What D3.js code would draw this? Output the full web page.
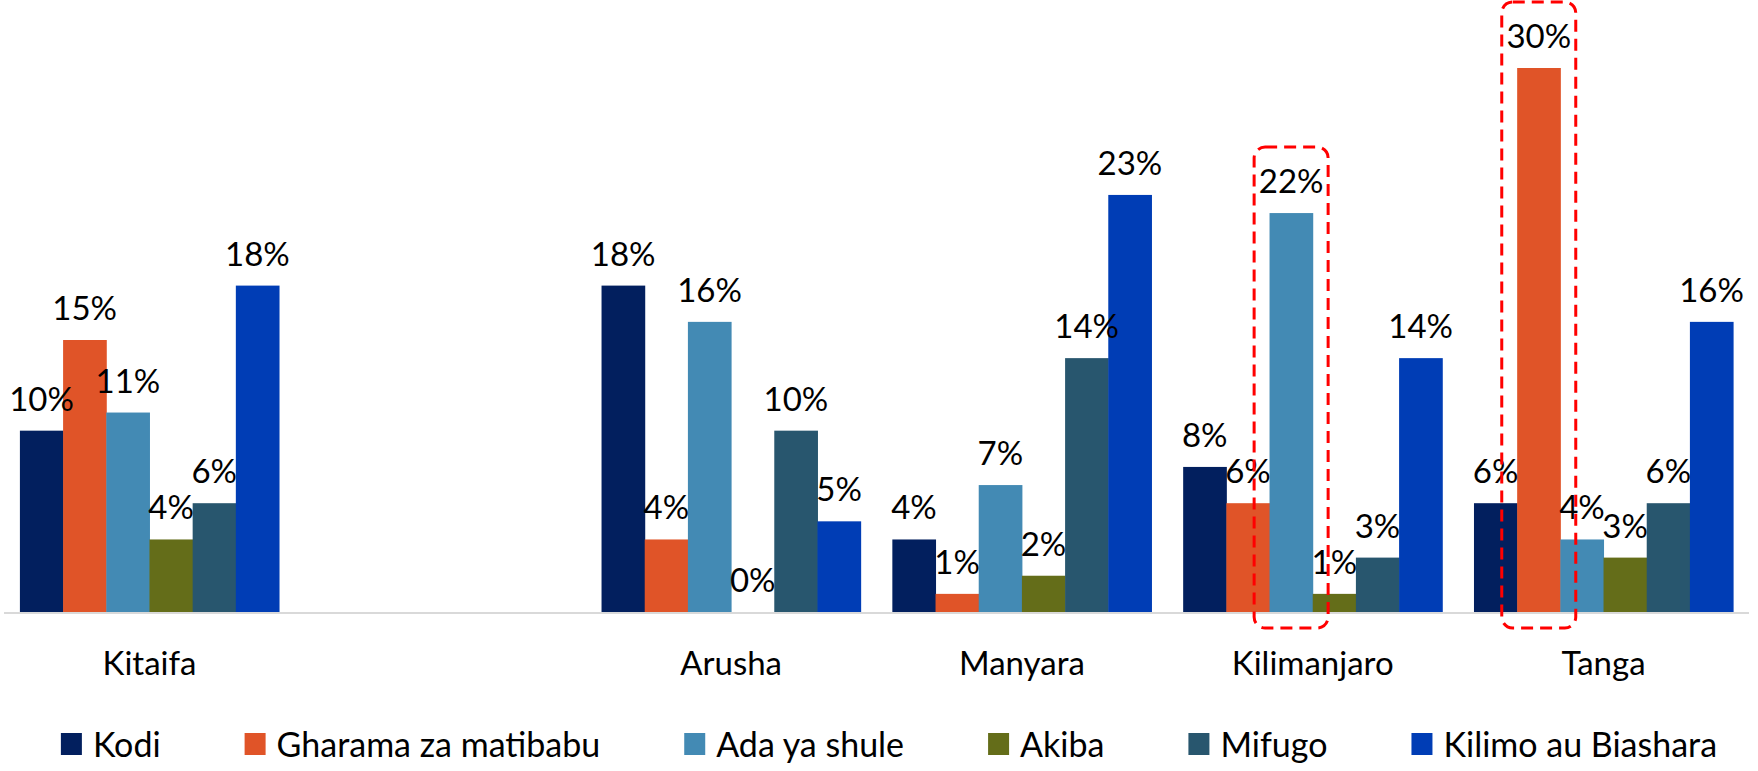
<!DOCTYPE html>
<html>
<head>
<meta charset="utf-8">
<script src="https://cdn.jsdelivr.net/npm/d3@7"></script>
<style>
    body { margin: 0; background: #fff; }
    svg { display: block; font-family: Lato, 'Open Sans', sans-serif; }
</style>
</head>
<body>
<script>
// ======================= DATA ================================
const categories = ['Kitaifa', '', 'Arusha', 'Manyara', 'Kilimanjaro', 'Tanga']
const seriesNames = ['Kodi', 'Gharama za matibabu', 'Ada ya shule', 'Akiba', 'Mifugo', 'Kilimo au Biashara']
const kodi = [10, null, 18, 4, 8, 6]
const gharama = [15, null, 4, 1, 6, 30]
const adaYaShule = [11, null, 16, 7, 22, 4]
const akiba = [4, null, 0, 2, 1, 3]
const mifugo = [6, null, 10, 14, 3, 6]
const kilimo = [18, null, 5, 23, 14, 16]
const colors = ['#021F5E', '#E05428', '#438AB4', '#646D19', '#28566E', '#003DB5']
// bars circled with the red dashed box
const highlightCats = ['Kilimanjaro', 'Tanga']
const highlightSeries = ['Ada ya shule', 'Gharama za matibabu']

const seriesValues = [kodi, gharama, adaYaShule, akiba, mifugo, kilimo]

const width = 1758,
    height = 771,
    baseline = 612

const svg = d3.select('body').append('svg')
    .attr('width', width)
    .attr('height', height)

// =========================================
// =============Scales======================
// =========================================
const x0 = d3.scaleBand()
    .domain(categories)
    .range([4, 1749])
    .paddingInner(0.109)
    .paddingOuter(0.0547)

const x1 = d3.scaleBand()
    .domain(seriesNames)
    .range([0, x0.bandwidth()])

const y = d3.scaleLinear()
    .domain([0, 30])
    .range([baseline, 68])

const color = d3.scaleOrdinal()
    .domain(seriesNames)
    .range(colors)

// flatten into one record per bar
const bars = []
categories.forEach((cat, i) => {
    seriesNames.forEach((name, j) => {
        const v = seriesValues[j][i]
        if (v === null) return
        bars.push({ cat: cat, series: name, value: v })
    })
})

// =========================================
// =============Bars========================
// =========================================
svg.append('g')
    .selectAll('rect')
    .data(bars)
    .enter().append('rect')
    .attr('x', d => x0(d.cat) + x1(d.series))
    .attr('y', d => y(d.value))
    .attr('width', x1.bandwidth() + 0.5)
    .attr('height', d => baseline - y(d.value))
    .attr('fill', d => color(d.series))

// x axis line
const xAxis = svg.append('g')
    .attr('transform', 'translate(0,' + baseline + ')')
    .call(d3.axisBottom(x0).tickSize(0).tickPadding(40))
xAxis.select('.domain')
    .attr('stroke', '#d9d9d9')
    .attr('stroke-width', 2)
    .attr('d', 'M' + x0.range()[0] + ',1H' + x0.range()[1])
xAxis.selectAll('text')
    .attr('font-family', 'Lato, sans-serif')
    .attr('font-size', 33)
    .attr('fill', '#000')
    .attr('dy', '0.7em')

// value labels
svg.append('g')
    .selectAll('text')
    .data(bars)
    .enter().append('text')
    .attr('x', d => x0(d.cat) + x1(d.series) + x1.bandwidth() / 2)
    .attr('y', d => y(d.value) - 20)
    .attr('text-anchor', 'middle')
    .attr('font-size', 33)
    .attr('fill', '#000')
    .text(d => d.value + '%')

// red dashed highlight boxes
const boxes = highlightCats.map((cat, i) => {
    const name = highlightSeries[i]
    const v = seriesValues[seriesNames.indexOf(name)][categories.indexOf(cat)]
    return { cat: cat, series: name, value: v }
})
svg.append('g')
    .selectAll('rect')
    .data(boxes)
    .enter().append('rect')
    .attr('x', d => x0(d.cat) + x1(d.series) + x1.bandwidth() / 2 - 37)
    .attr('y', d => y(d.value) - 66)
    .attr('width', 74)
    .attr('height', d => baseline + 16 - (y(d.value) - 66))
    .attr('rx', 11)
    .attr('fill', 'none')
    .attr('stroke', '#FF0000')
    .attr('stroke-width', 3)
    .attr('stroke-dasharray', '12,7')

// =========================================
// =============Legend======================
// =========================================
const legend = svg.append('g').attr('class', 'legend')
let cursor = 0
seriesNames.forEach((name) => {
    const item = legend.append('g').attr('transform', 'translate(' + cursor + ',0)')
    item.append('rect')
        .attr('x', 0)
        .attr('y', 733)
        .attr('width', 21)
        .attr('height', 22)
        .attr('fill', color(name))
    const t = item.append('text')
        .attr('x', 32)
        .attr('y', 757)
        .attr('font-size', 34)
        .attr('fill', '#000')
        .text(name)
    cursor += 32 + t.node().getComputedTextLength() + 84
})
const legendWidth = cursor - 84
legend.attr('transform', 'translate(' + (889 - legendWidth / 2) + ',0)')
</script>
</body>
</html>
